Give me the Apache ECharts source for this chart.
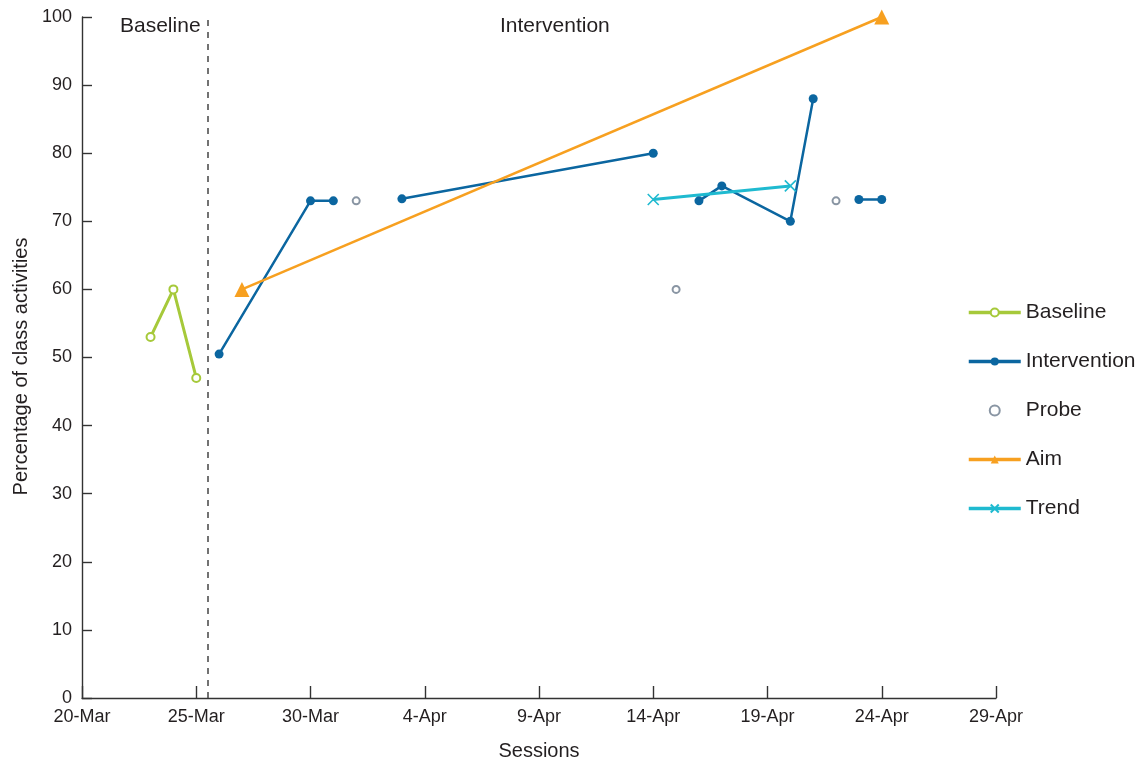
<!DOCTYPE html>
<html>
<head>
<meta charset="utf-8">
<script src="https://cdn.jsdelivr.net/npm/echarts@6/dist/echarts.min.js"></script>
<style>html,body{margin:0;padding:0;background:#fff;}#c{width:1147px;height:761px;}</style>
</head>
<body>
<div id="c"></div>
<script>
// ---- data ----
const startDate = '20-Mar';
const xTickLabels = ['20-Mar','25-Mar','30-Mar','4-Apr','9-Apr','14-Apr','19-Apr','24-Apr','29-Apr'];
const baselineDates = ['23-Mar','24-Mar','25-Mar'];
const baselineValues = [53, 60, 47];
// '-' marks a probe session that breaks the intervention line
const interventionDates = ['26-Mar','30-Mar','31-Mar','1-Apr','3-Apr','14-Apr','15-Apr','16-Apr','17-Apr','20-Apr','21-Apr','22-Apr','23-Apr','24-Apr'];
const interventionValues = [50.5, 73, 73, '-', 73.3, 80, '-', 73, 75.2, 70, 88, '-', 73.2, 73.2];
const probeDates = ['1-Apr','15-Apr','22-Apr'];
const probeValues = [73, 60, 73];
const aimDates = ['27-Mar','24-Apr'];
const aimValues = [60, 100];
const trendDates = ['14-Apr','20-Apr'];
const trendValues = [73.2, 75.2];
const phaseChangeDay = 5.5; // between 25-Mar and 26-Mar

const months = {Mar: 2, Apr: 3};
function dayIndex(s) {
  const [d, m] = s.split('-');
  const [d0, m0] = startDate.split('-');
  return (Date.UTC(2020, months[m], +d) - Date.UTC(2020, months[m0], +d0)) / 864e5;
}
function pairs(dates, vals) { return dates.map((d, i) => [dayIndex(d), vals[i]]); }

const FONT = '"Liberation Sans", Arial, Helvetica, sans-serif';
const TXT = '#231f20';
const C_BASE = '#a6c93a', C_INT = '#0b66a0', C_PROBE = '#6b7b8c', C_AIM = '#f7a020', C_TREND = '#1fbad0';

const chart = echarts.init(document.getElementById('c'));
chart.setOption({
  animation: false,
  textStyle: {fontFamily: FONT, color: TXT},
  grid: {left: 82, right: 151, top: 17, bottom: 63, containLabel: false, outerBoundsMode: 'none'},
  xAxis: {
    type: 'value', min: 0, max: 40, interval: 5,
    name: 'Sessions', nameLocation: 'middle', nameGap: 43,
    nameTextStyle: {fontSize: 20, color: TXT, fontFamily: FONT},
    axisLine: {show: true, lineStyle: {color: '#333', width: 1.4}},
    axisTick: {show: true, inside: true, length: 12, lineStyle: {color: '#333', width: 1.4}},
    axisLabel: {fontSize: 18, color: TXT, margin: 10, fontFamily: FONT,
      formatter: v => xTickLabels[Math.round(v / 5)] || ''},
    splitLine: {show: false}
  },
  yAxis: {
    type: 'value', min: 0, max: 100, interval: 10,
    name: 'Percentage of class activities', nameLocation: 'middle', nameGap: 51,
    nameTextStyle: {fontSize: 20, color: TXT, fontFamily: FONT, padding: [0, 18, 0, 0]},
    axisLine: {show: true, lineStyle: {color: '#333', width: 1.4}},
    axisTick: {show: true, inside: true, length: 10, lineStyle: {color: '#333', width: 1.4}},
    axisLabel: {fontSize: 18, color: TXT, margin: 10, fontFamily: FONT},
    splitLine: {show: false}
  },
  legend: {
    orient: 'vertical', left: 962, top: 297, itemGap: 28, itemWidth: 52, itemHeight: 10,
    lineStyle: {width: 3.5},
    textStyle: {fontSize: 21, color: TXT, fontFamily: FONT},
    data: ['Baseline', 'Intervention', 'Probe', {name: 'Aim', itemStyle: {color: C_AIM}}, 'Trend']
  },
  graphic: [
    {type: 'text', left: 120, top: 16, style: {text: 'Baseline', fontSize: 21, fill: TXT, fontFamily: FONT}},
    {type: 'text', left: 500, top: 16, style: {text: 'Intervention', fontSize: 21, fill: TXT, fontFamily: FONT}}
  ],
  series: [
    {
      name: 'Baseline', type: 'line', data: pairs(baselineDates, baselineValues),
      symbol: 'emptyCircle', symbolSize: 8, color: C_BASE,
      lineStyle: {width: 3, color: C_BASE}, itemStyle: {color: C_BASE, borderWidth: 1.6},
      markLine: {
        silent: true, symbol: 'none', label: {show: false},
        lineStyle: {type: [6, 6], color: '#444', width: 1.5},
        data: [[{coord: [phaseChangeDay, 0]}, {coord: [phaseChangeDay, 100]}]]
      }
    },
    {
      name: 'Intervention', type: 'line', data: pairs(interventionDates, interventionValues),
      symbol: 'circle', symbolSize: 9, color: C_INT, connectNulls: false,
      lineStyle: {width: 2.5, color: C_INT}, itemStyle: {color: C_INT}
    },
    {
      name: 'Probe', type: 'scatter', data: pairs(probeDates, probeValues),
      symbol: 'emptyCircle', symbolSize: 7, color: C_PROBE,
      itemStyle: {color: C_PROBE, borderWidth: 1.6}
    },
    {
      name: 'Aim', type: 'line', data: pairs(aimDates, aimValues),
      symbol: 'triangle', symbolSize: 15, color: C_AIM,
      lineStyle: {width: 2.5, color: C_AIM}, itemStyle: {color: C_AIM}
    },
    {
      name: 'Trend', type: 'line', data: pairs(trendDates, trendValues),
      symbol: 'path://M0,0 L10,10 M10,0 L0,10', symbolSize: 11, color: C_TREND,
      lineStyle: {width: 3, color: C_TREND}, itemStyle: {color: 'none', borderColor: C_TREND, borderWidth: 1.6}
    }
  ]
});
</script>
</body>
</html>
